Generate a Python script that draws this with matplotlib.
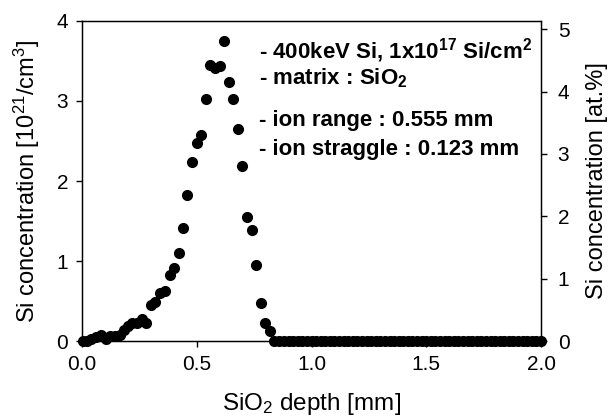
import matplotlib
matplotlib.use("Agg")
import matplotlib.pyplot as plt

plt.rcParams['font.family'] = ['Liberation Sans', 'DejaVu Sans']
plt.rcParams['mathtext.fontset'] = 'custom'
plt.rcParams['mathtext.rm'] = 'Liberation Sans'
plt.rcParams['mathtext.it'] = 'Liberation Sans:italic'
plt.rcParams['mathtext.bf'] = 'Liberation Sans:bold'

depth = [0.006, 0.020, 0.039, 0.060, 0.083, 0.103, 0.122, 0.143, 0.165, 0.184,
         0.199, 0.219, 0.240, 0.262, 0.281, 0.300, 0.320, 0.341, 0.361, 0.383,
         0.400, 0.422, 0.442, 0.459, 0.481, 0.499, 0.520, 0.539, 0.557, 0.581,
         0.600, 0.617, 0.639, 0.658, 0.681, 0.699, 0.720, 0.739, 0.757, 0.778,
         0.799, 0.817, 0.835,
         0.86, 0.88, 0.90, 0.92, 0.94, 0.96, 0.98, 1.00, 1.02, 1.04, 1.06, 1.08,
         1.10, 1.12, 1.14, 1.16, 1.18, 1.20, 1.22, 1.24, 1.26, 1.28, 1.30, 1.32,
         1.34, 1.36, 1.38, 1.40, 1.42, 1.44, 1.46, 1.48, 1.50, 1.52, 1.54, 1.56,
         1.58, 1.60, 1.62, 1.64, 1.66, 1.68, 1.70, 1.72, 1.74, 1.76, 1.78, 1.80,
         1.82, 1.84, 1.86, 1.88, 1.90, 1.92, 1.94, 1.96, 1.98, 2.00]
conc = [0.00, 0.00, 0.02, 0.05, 0.07, 0.02, 0.06, 0.06, 0.075, 0.14,
        0.19, 0.22, 0.22, 0.28, 0.23, 0.45, 0.49, 0.60, 0.63, 0.825,
        0.91, 1.10, 1.41, 1.82, 2.24, 2.47, 2.575, 3.03, 3.45, 3.41,
        3.44, 3.75, 3.24, 3.02, 2.65, 2.19, 1.55, 1.39, 0.95, 0.47,
        0.23, 0.125, 0.00,
        0.0, 0.0, 0.0, 0.0, 0.0, 0.0, 0.0, 0.0, 0.0, 0.0, 0.0, 0.0,
        0.0, 0.0, 0.0, 0.0, 0.0, 0.0, 0.0, 0.0, 0.0, 0.0, 0.0, 0.0,
        0.0, 0.0, 0.0, 0.0, 0.0, 0.0, 0.0, 0.0, 0.0, 0.0, 0.0, 0.0,
        0.0, 0.0, 0.0, 0.0, 0.0, 0.0, 0.0, 0.0, 0.0, 0.0, 0.0, 0.0,
        0.0, 0.0, 0.0, 0.0, 0.0, 0.0, 0.0, 0.0, 0.0, 0.0]

xticks = [0.0, 0.5, 1.0, 1.5, 2.0]
xticklabels = ["0.0", "0.5", "1.0", "1.5", "2.0"]
left_ticks = [0, 1, 2, 3, 4]
right_ticks = [0, 1, 2, 3, 4, 5]

fig = plt.figure(figsize=(6.11, 4.19), dpi=100)
ax = fig.add_axes([82/611, 1 - 341/419, 459/611, 320/419])
ax.plot(depth, conc, 'o', color='black', markersize=7, clip_on=False, zorder=3)
ax.set_xlim(0, 2.0)
ax.set_ylim(0, 4)
ax.set_xticks(xticks)
ax.set_xticklabels(xticklabels)
ax.set_yticks(left_ticks)
ax.tick_params(axis='both', direction='out', length=4, width=1, labelsize=15, pad=6)
ax.set_xlabel("SiO$_2$ depth [mm]", fontsize=17.5, labelpad=12)
ax.set_ylabel("Si concentration [10$^{21}$/cm$^{3}$]", fontsize=17, labelpad=10)
for s in ax.spines.values():
    s.set_linewidth(1.0)

ax2 = ax.twinx()
ax2.set_ylim(0, 5.133)
ax2.set_yticks(right_ticks)
ax2.tick_params(axis='y', direction='out', length=4, width=1, labelsize=15, pad=8)
ax2.set_ylabel("Si concentration [at.%]", fontsize=17, labelpad=12)

tx = (259 - 82) / 459
kw = dict(transform=ax.transAxes, fontsize=16, fontweight='bold', va='baseline', ha='left')
ax.text(tx, (341 - 58) / 320, r"- 400keV Si, 1x10$^{\mathbf{17}}$ Si/cm$^{\mathbf{2}}$", **kw)
ax.text(tx, (341 - 84) / 320, r"- matrix : SiO$_{\mathbf{2}}$", **kw)
ax.text(tx, (341 - 126) / 320, "- ion range : 0.555 mm", **kw)
ax.text(tx, (341 - 155) / 320, "- ion straggle : 0.123 mm", **kw)

fig.savefig("out.png", dpi=100)
